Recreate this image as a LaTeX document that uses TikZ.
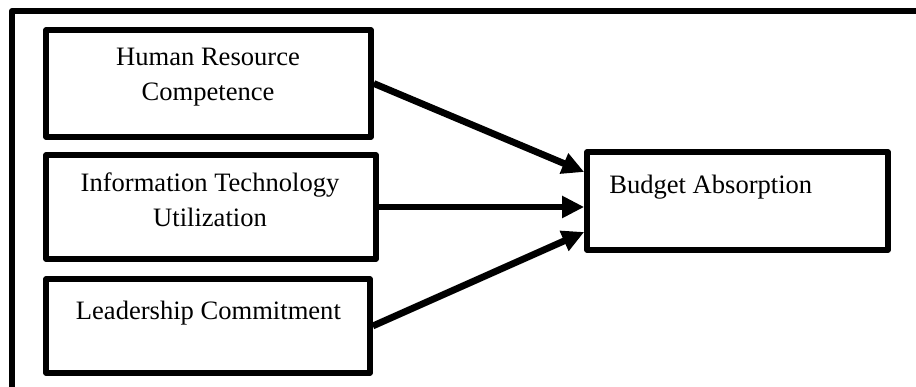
\documentclass[tikz,border=0pt]{standalone}
\usepackage{fontspec}
\setmainfont{Liberation Serif}
\usetikzlibrary{arrows.meta}
\begin{document}
\begin{tikzpicture}
		\tikzstyle{box} = [draw, line width=0.14cm, line join=round, inner sep=0, outer sep=0.07cm]
		\tikzstyle{txt} = [inner sep=0, align=center, font=\fontsize{18.9}{24.9}\selectfont]
		\tikzstyle{arrow} = [-{Triangle[length=0.55cm,width=0.52cm]}, line width=0.17cm]
		\useasboundingbox (0,0) rectangle (22.9,9.675);
		% open frame
		\draw [line width=0.15cm, line join=round] (0.3,0) -- (0.3,9.4) -- (22.9,9.4);
		
		\node [box, minimum width=8.125cm, minimum height=2.675cm] (v1) at (5.2125,7.5875) {};
		\node [box, minimum width=8.25cm, minimum height=2.6cm] (v2) at (5.275,4.5) {};
		\node [box, minimum width=8.1cm, minimum height=2.35cm] (v3) at (5.2,1.525) {};
		\node [box, minimum width=7.525cm, minimum height=2.45cm] (v4) at (18.4375,4.65) {};
		
		% base = last line
		\node [txt, anchor=base] (t1) at (5.2,7.15) {Human Resource\\Competence};
		\node [txt, anchor=base] (t2) at (5.25,4.0) {Information Technology\\Utilization};
		\node [txt, anchor=base] (t3) at (5.21,1.675) {Leadership Commitment};
		\node [txt, anchor=base west] (t4) at (15.225,4.825) {Budget Absorption};
		
		\draw [arrow] (v1.east) -- ([yshift=0.725cm]v4.west);
		\draw [arrow] (v2.east) -- (v2.east -| v4.west);
		\draw [arrow] (v3.east) -- ([yshift=-0.775cm]v4.west);
\end{tikzpicture}
\end{document}
